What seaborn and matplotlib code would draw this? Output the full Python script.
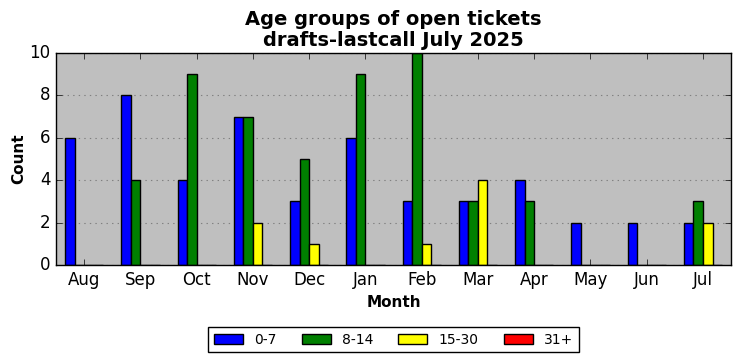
import pandas as pd
import matplotlib
matplotlib.use('Agg')
import matplotlib.pyplot as plt
import seaborn as sns

# chart data
months = ['Aug', 'Sep', 'Oct', 'Nov', 'Dec', 'Jan', 'Feb', 'Mar', 'Apr', 'May', 'Jun', 'Jul']
age_groups = ['0-7', '8-14', '15-30', '31+']
counts_0_7 = [6, 8, 4, 7, 3, 6, 3, 3, 4, 2, 2, 2]
counts_8_14 = [0, 4, 9, 7, 5, 9, 10, 3, 3, 0, 0, 3]
counts_15_30 = [0, 0, 0, 2, 1, 0, 1, 4, 0, 0, 0, 2]
counts_31_plus = [0, 0, 0, 0, 0, 0, 0, 0, 0, 0, 0, 0]
bar_colors = ['blue', 'green', 'yellow', 'red']

all_counts = [counts_0_7, counts_8_14, counts_15_30, counts_31_plus]
rows = []
for grp, vals in zip(age_groups, all_counts):
    for m, v in zip(months, vals):
        rows.append({'Month': m, 'Group': grp, 'Count': v})
df = pd.DataFrame(rows)

plt.style.use('classic')
fig = plt.figure(figsize=(7.41, 3.61), dpi=100, facecolor='white')
ax = fig.add_axes([0.0756, 0.266, 0.911, 0.587])
ax.set_facecolor('#bfbfbf')

sns.barplot(data=df, x='Month', y='Count', hue='Group', order=months,
            hue_order=age_groups, palette=bar_colors, width=0.68, gap=0,
            edgecolor='black', linewidth=1, saturation=1, ax=ax)

ax.set_xlim(-0.5, len(months) - 0.5)
ax.set_ylim(0, 10)
ax.set_yticks([0, 2, 4, 6, 8, 10])
ax.yaxis.grid(True, linestyle=':', color='#808080', linewidth=0.8)
ax.xaxis.grid(False)
ax.set_axisbelow(True)
ax.tick_params(direction='in', top=True, right=True, labelsize=12)

ax.set_title('Age groups of open tickets\ndrafts-lastcall July 2025',
             fontsize=14, fontweight='bold', linespacing=1.15)
ax.set_xlabel('Month', fontsize=11, fontweight='bold')
ax.set_ylabel('Count', fontsize=11, fontweight='bold', labelpad=2)

ax.legend(loc='upper center', bbox_to_anchor=(0.5, -0.26), ncol=4,
          fancybox=False, frameon=True, edgecolor='black', fontsize=10,
          handlelength=2.1, columnspacing=1.8)

fig.savefig('out.png', dpi=100, facecolor='white')
